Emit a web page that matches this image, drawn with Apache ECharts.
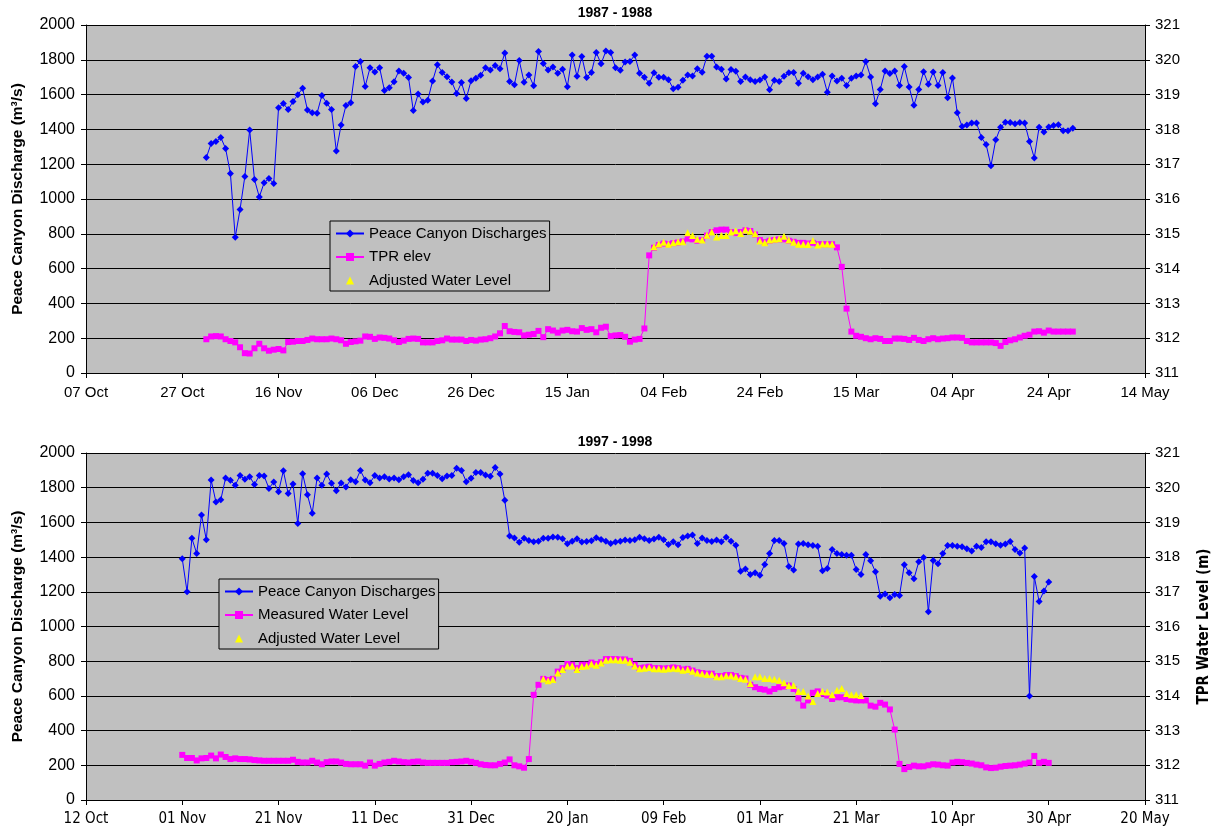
<!DOCTYPE html>
<html><head><meta charset="utf-8">
<script src="https://cdn.jsdelivr.net/npm/echarts@6/dist/echarts.min.js"></script>
<style>html,body{margin:0;padding:0;background:#fff}#c{width:1217px;height:837px}</style>
</head><body><div id="c"></div>
<script>
// ---------- DATA ----------
const topTitle = '1987 - 1988';
const bottomTitle = '1997 - 1998';
const topAxisStart = '1987-10-07';
const bottomAxisStart = '1997-10-12';
const axisSpanDays = 220;
const axisStepDays = 20;
const leftTicks = {min: 0, max: 2000, step: 200};
const rightTicks = {min: 311, max: 321, step: 1};

const topSeriesStart = '1987-11-01';
const topDischarge = [1238,1319,1330,1354,1290,1147,780,940,1130,1396,
1112,1012,1093,1118,1089,1524,1549,1514,1560,1599,
1636,1512,1495,1493,1595,1551,1514,1276,1425,1537,
1553,1761,1790,1647,1754,1730,1754,1624,1640,1674,
1736,1723,1698,1508,1603,1557,1568,1678,1771,1727,
1703,1672,1607,1669,1578,1680,1694,1711,1754,1742,
1767,1748,1839,1675,1657,1796,1671,1713,1651,1848,
1779,1742,1759,1723,1746,1645,1827,1705,1819,1698,
1727,1842,1777,1850,1842,1754,1740,1788,1790,1827,
1723,1700,1665,1725,1700,1700,1686,1634,1642,1682,
1713,1707,1748,1729,1821,1821,1759,1746,1690,1744,
1734,1676,1701,1686,1676,1684,1701,1628,1682,1676,
1705,1725,1727,1665,1723,1703,1686,1701,1717,1614,
1707,1678,1694,1653,1694,1707,1713,1790,1701,1547,
1630,1736,1721,1736,1653,1761,1644,1539,1630,1732,
1659,1730,1653,1727,1582,1696,1495,1417,1425,1437,
1437,1354,1313,1191,1340,1412,1441,1439,1433,1439,
1437,1331,1236,1412,1385,1414,1423,1427,1392,1392,
1406];
const topTPR = [311.97,312.05,312.06,312.05,311.97,311.92,311.88,311.74,311.57,311.56,
311.71,311.84,311.71,311.64,311.67,311.69,311.65,311.89,311.90,311.92,
311.92,311.95,311.99,311.97,311.97,311.97,311.99,311.97,311.94,311.84,
311.89,311.91,311.93,312.05,312.04,311.98,312.02,312.01,311.99,311.94,
311.89,311.93,311.98,311.99,311.98,311.88,311.88,311.88,311.92,311.94,
311.99,311.96,311.96,311.96,311.92,311.95,311.93,311.96,311.97,312.00,
312.05,312.14,312.35,312.20,312.18,312.17,312.08,312.10,312.12,312.21,
312.03,312.26,312.22,312.16,312.22,312.24,312.20,312.19,312.29,312.24,
312.26,312.17,312.30,312.33,312.06,312.08,312.09,312.04,311.90,311.96,
311.98,312.28,314.38,
314.60,314.68,314.72,314.70,314.73,314.75,314.78,
314.86,314.84,314.80,314.82,314.95,315.05,315.10,315.12,315.12,315.05,
315.02,315.05,315.10,315.08,314.98,314.82,314.76,314.80,314.82,314.84,
314.84,314.80,314.77,314.74,314.74,314.72,314.74,314.70,314.70,314.70,314.70,
314.61,314.05,312.85,312.19,312.07,312.04,312.00,311.97,312.00,311.98,
311.92,311.92,311.99,311.99,311.98,311.95,312.01,311.95,311.92,311.97,
312.00,311.97,311.99,312.00,312.02,312.02,312.01,311.92,311.88,311.88,
311.88,311.88,311.88,311.86,311.78,311.89,311.94,311.97,312.02,312.07,
312.10,312.19,312.20,312.16,312.22,312.19,312.19,312.19,312.19,312.19];
const topAdjustedStart = '1988-02-02';
const topAdjusted = [314.63,314.71,314.76,314.70,314.74,314.77,314.77,315.03,314.95,314.84,
314.82,314.96,315.05,314.91,314.95,314.95,315.05,315.09,315.01,315.11,
315.07,315.00,314.79,314.74,314.82,314.84,314.86,314.93,314.82,314.76,
314.70,314.70,314.69,314.81,314.68,314.71,314.71,314.70];

const bottomSeriesStart = '1997-11-01';
const bottomDischarge = [1390,1200,1508,1421,1643,1500,1844,1717,1730,1856,
1843,1814,1870,1848,1863,1819,1870,1868,1796,1833,
1777,1897,1767,1821,1593,1881,1759,1653,1856,1814,
1879,1825,1783,1827,1804,1846,1835,1899,1844,1829,
1870,1856,1863,1850,1856,1846,1863,1875,1841,1829,
1848,1883,1883,1871,1852,1867,1870,1912,1899,1835,
1854,1887,1887,1873,1866,1916,1879,1727,1522,1510,
1485,1508,1495,1489,1491,1508,1508,1516,1514,1506,
1477,1492,1506,1487,1490,1494,1512,1502,1492,1479,
1487,1492,1498,1496,1500,1515,1506,1496,1504,1515,
1500,1473,1488,1471,1513,1521,1527,1479,1510,1496,
1490,1498,1488,1515,1492,1469,1319,1331,1300,1310,
1296,1358,1421,1496,1496,1479,1346,1325,1475,1479,
1471,1467,1462,1321,1335,1444,1421,1415,1410,1410,
1329,1300,1415,1379,1315,1175,1187,1165,1185,1179,
1356,1310,1275,1373,1398,1085,1381,1362,1421,1467,
1467,1463,1460,1448,1435,1463,1456,1488,1488,1477,
1469,1475,1490,1444,1423,1452,600,1288,1144,1204,
1256];
const bottomMeasured = [312.30,312.21,312.21,312.14,312.20,312.21,312.28,312.20,312.31,312.24,
312.18,312.20,312.18,312.18,312.17,312.15,312.14,312.13,312.13,312.13,
312.13,312.13,312.13,312.16,312.10,312.08,312.08,312.13,312.08,312.03,
312.09,312.11,312.11,312.08,312.04,312.03,312.03,312.03,311.99,312.08,
311.99,312.04,312.08,312.10,312.13,312.11,312.09,312.08,312.10,312.11,
312.08,312.07,312.07,312.07,312.07,312.07,312.09,312.10,312.11,312.13,
312.10,312.07,312.03,312.01,312.00,312.00,312.04,312.08,312.17,312.00,
311.97,311.93,312.18,314.03,314.32,314.49,314.46,314.49,314.70,314.80,
314.92,314.90,314.80,314.90,314.90,314.96,314.92,314.97,315.06,315.06,
315.06,315.05,315.05,315.01,314.90,314.80,314.82,314.84,314.80,314.80,
314.79,314.80,314.82,314.80,314.76,314.78,314.73,314.68,314.66,314.64,
314.64,314.57,314.57,314.60,314.60,314.57,314.52,314.50,314.32,314.25,
314.20,314.18,314.13,314.20,314.25,314.27,314.30,314.20,313.93,313.72,
313.87,314.09,314.13,314.06,314.01,313.91,313.96,313.96,313.91,313.89,
313.87,313.87,313.87,313.72,313.69,313.80,313.75,313.61,313.03,312.04,
311.89,311.95,311.99,311.97,311.97,312.00,312.03,312.02,312.00,311.99,
312.08,312.10,312.09,312.07,312.05,312.02,312.00,311.94,311.92,311.93,
311.96,311.98,311.99,312.00,312.02,312.05,312.08,312.27,312.07,312.10,
312.07];
const bottomAdjustedStart = '1998-01-15';
const bottomAdjusted = [314.49,314.44,314.47,314.66,314.76,314.86,314.86,314.76,314.85,314.86,
314.92,314.88,314.95,315.03,315.04,315.04,315.03,315.03,314.97,314.86,
314.78,314.80,314.82,314.78,314.78,314.77,314.78,314.80,314.78,314.74,
314.76,314.71,314.66,314.64,314.62,314.62,314.55,314.55,314.58,314.58,
314.55,314.50,314.48,314.36,314.55,314.55,314.50,314.50,314.48,314.45,
314.38,314.30,314.30,314.13,314.13,314.00,313.84,314.07,314.13,314.11,
314.03,314.16,314.21,314.07,314.03,314.03,314.01];

const topNames = ['Peace Canyon Discharges','TPR elev','Adjusted Water Level'];
const bottomNames = ['Peace Canyon Discharges','Measured Water Level','Adjusted Water Level'];
const leftAxisName = 'Peace Canyon Discharge (m\u00B3/s)';
const rightAxisName = 'TPR Water Level (m)';

// ---------- HELPERS ----------
const DAY = 86400000;
const MON = ['Jan','Feb','Mar','Apr','May','Jun','Jul','Aug','Sep','Oct','Nov','Dec'];
const ts = s => Date.parse(s + 'T00:00:00Z');
const offset = (axisStart, d) => Math.round((ts(d) - ts(axisStart)) / DAY);
const pairs = (axisStart, start, vals) => { const o = offset(axisStart, start); return vals.map((v, i) => [o + i, v]); };
const fmtDate = axisStart => v => { const d = new Date(ts(axisStart) + v * DAY); return String(d.getUTCDate()).padStart(2, '0') + ' ' + MON[d.getUTCMonth()]; };

const FONT = "'Liberation Sans', Arial, sans-serif";
const NARROW = "'Liberation Sans Narrow', 'Arial Narrow', 'DejaVu Sans Condensed', sans-serif";
const BLACK = '#000';

function xAxis(gi, axisStart, family) {
  return {gridIndex: gi, type: 'value', min: 0, max: axisSpanDays, interval: axisStepDays,
    axisLine: {show: true, onZero: false, lineStyle: {color: BLACK, width: 1}},
    axisTick: {show: true, length: 5, lineStyle: {color: BLACK}},
    axisLabel: {color: BLACK, fontSize: 15, fontFamily: family, margin: 12, formatter: fmtDate(axisStart)},
    splitLine: {show: false}};
}
function leftAxis(gi) {
  return {gridIndex: gi, type: 'value', position: 'left', min: leftTicks.min, max: leftTicks.max, interval: leftTicks.step,
    name: leftAxisName, nameLocation: 'middle', nameRotate: 90, nameGap: 60,
    nameTextStyle: {fontWeight: 'bold', fontSize: 15.5, color: BLACK, fontFamily: FONT},
    axisLine: {show: true, onZero: false, lineStyle: {color: BLACK}},
    axisTick: {show: true, length: 5, lineStyle: {color: BLACK}},
    axisLabel: {color: BLACK, fontSize: 16, fontFamily: FONT, margin: 11, formatter: v => String(v)},
    splitLine: {show: true, lineStyle: {color: BLACK, width: 1}}};
}
function rightAxis(gi, withName) {
  const a = {gridIndex: gi, type: 'value', position: 'right', min: rightTicks.min, max: rightTicks.max, interval: rightTicks.step,
    axisLine: {show: true, onZero: false, lineStyle: {color: BLACK}},
    axisTick: {show: true, length: 5, lineStyle: {color: BLACK}},
    axisLabel: {color: BLACK, fontSize: 15, fontFamily: FONT, margin: 10, formatter: v => String(v)},
    splitLine: {show: false}};
  if (withName) Object.assign(a, {name: rightAxisName, nameLocation: 'middle', nameRotate: 90, nameGap: 52,
    nameTextStyle: {fontWeight: 'bold', fontSize: 15, color: BLACK, fontFamily: NARROW}});
  return a;
}
function lineSeries(name, gi, yi, data, color, symbol, size) {
  return {type: 'line', name, xAxisIndex: gi, yAxisIndex: yi, data, symbol, symbolSize: size, showSymbol: true, showAllSymbol: true,
    lineStyle: {color, width: 1}, itemStyle: {color}, emphasis: {disabled: true}, animation: false, z: 2};
}
function triSeries(name, gi, yi, data) {
  return {type: 'line', name, xAxisIndex: gi, yAxisIndex: yi, data, symbol: 'triangle', symbolSize: 7, showSymbol: true, showAllSymbol: true,
    lineStyle: {width: 0, opacity: 0}, itemStyle: {color: '#FFFF00'}, emphasis: {disabled: true}, animation: false, z: 3};
}
function legend(left, top, names) {
  return {left, top, orient: 'vertical', data: names, selectedMode: false,
    backgroundColor: '#C0C0C0', borderColor: BLACK, borderWidth: 1, padding: [5, 3, 3, 5],
    itemGap: 8.5, itemWidth: 28, itemHeight: 10,
    textStyle: {fontSize: 15, color: BLACK, fontFamily: FONT, lineHeight: 15}};
}

const option = {
  backgroundColor: '#fff',
  animation: false,
  title: [
    {text: topTitle, left: 615, top: 6, padding: 0, textAlign: 'center', textStyle: {fontSize: 14, fontWeight: 'bold', color: BLACK, fontFamily: FONT}},
    {text: bottomTitle, left: 615, top: 435, padding: 0, textAlign: 'center', textStyle: {fontSize: 14, fontWeight: 'bold', color: BLACK, fontFamily: FONT}}
  ],
  grid: [
    {left: 86, right: 72, top: 25, height: 348, show: true, backgroundColor: '#C0C0C0', borderWidth: 0, containLabel: false, outerBoundsMode: 'none'},
    {left: 86, right: 72, top: 453, height: 347, show: true, backgroundColor: '#C0C0C0', borderWidth: 0, containLabel: false, outerBoundsMode: 'none'}
  ],
  xAxis: [xAxis(0, topAxisStart, FONT), xAxis(1, bottomAxisStart, NARROW)],
  yAxis: [leftAxis(0), rightAxis(0, false), leftAxis(1), rightAxis(1, true)],
  legend: [legend(330, 221, topNames), legend(219, 579, bottomNames)],
  series: [
    lineSeries(topNames[0], 0, 0, pairs(topAxisStart, topSeriesStart, topDischarge), '#0000FF', 'diamond', 7),
    lineSeries(topNames[1], 0, 1, pairs(topAxisStart, topSeriesStart, topTPR), '#FF00FF', 'rect', 6),
    triSeries(topNames[2], 0, 1, pairs(topAxisStart, topAdjustedStart, topAdjusted)),
    lineSeries(bottomNames[0], 1, 2, pairs(bottomAxisStart, bottomSeriesStart, bottomDischarge), '#0000FF', 'diamond', 7),
    lineSeries(bottomNames[1], 1, 3, pairs(bottomAxisStart, bottomSeriesStart, bottomMeasured), '#FF00FF', 'rect', 6),
    triSeries(bottomNames[2], 1, 3, pairs(bottomAxisStart, bottomAdjustedStart, bottomAdjusted))
  ]
};
const chart = echarts.init(document.getElementById('c'), null, {renderer: 'canvas'});
chart.setOption(option);
</script></body></html>
